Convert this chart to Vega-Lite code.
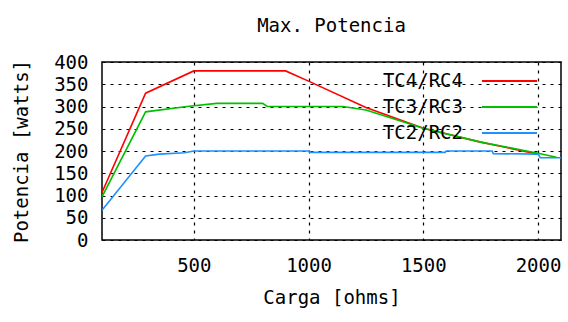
{
  "$schema": "https://vega.github.io/schema/vega-lite/v6.json",
  "width": 459,
  "height": 178,
  "autosize": "none",
  "padding": {"left": 102, "top": 62, "right": 7, "bottom": 82},
  "background": "white",
  "config": {
    "font": "DejaVu Sans Mono",
    "view": {"stroke": "#000", "strokeWidth": 1.5},
    "axis": {
      "labelFont": "DejaVu Sans Mono",
      "titleFont": "DejaVu Sans Mono",
      "labelFontSize": 19,
      "titleFontSize": 19,
      "labelColor": "#000",
      "titleColor": "#000",
      "titleFontWeight": "normal",
      "domain": false,
      "ticks": false,
      "tickSize": 0,
      "grid": true,
      "gridColor": "#000",
      "gridDash": [3, 5],
      "gridWidth": 1.2,
      "gridOpacity": 1
    }
  },
  "title": {
    "text": "Max. Potencia",
    "font": "DejaVu Sans Mono",
    "fontSize": 19,
    "fontWeight": "normal",
    "color": "#000",
    "baseline": "alphabetic",
    "offset": 2,
    "anchor": "middle"
  },
  "data": {
    "values": [
      {"carga": 100, "potencia": 107, "serie": "TC4/RC4"},
      {"carga": 290, "potencia": 330, "serie": "TC4/RC4"},
      {"carga": 500, "potencia": 380, "serie": "TC4/RC4"},
      {"carga": 900, "potencia": 380, "serie": "TC4/RC4"},
      {"carga": 1000, "potencia": 357, "serie": "TC4/RC4"},
      {"carga": 1250, "potencia": 298, "serie": "TC4/RC4"},
      {"carga": 1500, "potencia": 251, "serie": "TC4/RC4"},
      {"carga": 1750, "potencia": 220, "serie": "TC4/RC4"},
      {"carga": 2000, "potencia": 193, "serie": "TC4/RC4"},
      {"carga": 100, "potencia": 97, "serie": "TC3/RC3"},
      {"carga": 290, "potencia": 288, "serie": "TC3/RC3"},
      {"carga": 470, "potencia": 300, "serie": "TC3/RC3"},
      {"carga": 600, "potencia": 307, "serie": "TC3/RC3"},
      {"carga": 800, "potencia": 307, "serie": "TC3/RC3"},
      {"carga": 820, "potencia": 300, "serie": "TC3/RC3"},
      {"carga": 1150, "potencia": 300, "serie": "TC3/RC3"},
      {"carga": 1250, "potencia": 292, "serie": "TC3/RC3"},
      {"carga": 1500, "potencia": 251, "serie": "TC3/RC3"},
      {"carga": 1750, "potencia": 220, "serie": "TC3/RC3"},
      {"carga": 2000, "potencia": 195, "serie": "TC3/RC3"},
      {"carga": 2080, "potencia": 186, "serie": "TC3/RC3"},
      {"carga": 100, "potencia": 67, "serie": "TC2/RC2"},
      {"carga": 290, "potencia": 189, "serie": "TC2/RC2"},
      {"carga": 350, "potencia": 193, "serie": "TC2/RC2"},
      {"carga": 460, "potencia": 196, "serie": "TC2/RC2"},
      {"carga": 500, "potencia": 200, "serie": "TC2/RC2"},
      {"carga": 1000, "potencia": 200, "serie": "TC2/RC2"},
      {"carga": 1005, "potencia": 197, "serie": "TC2/RC2"},
      {"carga": 1595, "potencia": 197, "serie": "TC2/RC2"},
      {"carga": 1600, "potencia": 200, "serie": "TC2/RC2"},
      {"carga": 1800, "potencia": 200, "serie": "TC2/RC2"},
      {"carga": 1805, "potencia": 194, "serie": "TC2/RC2"},
      {"carga": 2000, "potencia": 193, "serie": "TC2/RC2"},
      {"carga": 2010, "potencia": 185, "serie": "TC2/RC2"},
      {"carga": 2100, "potencia": 185, "serie": "TC2/RC2"}
    ]
  },
  "mark": {"type": "line", "strokeWidth": 1.6, "clip": true},
  "encoding": {
    "x": {
      "field": "carga",
      "type": "quantitative",
      "title": "Carga [ohms]",
      "scale": {"domain": [100, 2100], "nice": false, "zero": false},
      "axis": {
        "values": [500, 1000, 1500, 2000],
        "format": "d",
        "labelPadding": 16,
        "labelDx": 3,
        "titlePadding": 13
      }
    },
    "y": {
      "field": "potencia",
      "type": "quantitative",
      "title": "Potencia [watts]",
      "scale": {"domain": [0, 400], "nice": false},
      "axis": {
        "values": [0, 50, 100, 150, 200, 250, 300, 350, 400],
        "labelPadding": 14,
        "titlePadding": 22
      }
    },
    "color": {
      "field": "serie",
      "type": "nominal",
      "scale": {
        "domain": ["TC4/RC4", "TC3/RC3", "TC2/RC2"],
        "range": ["#ff0000", "#00c000", "#1e90ff"]
      },
      "legend": {
        "title": null,
        "orient": "none",
        "legendX": 380,
        "legendY": 9.5,
        "padding": 0,
        "symbolType": "M-5,0H5",
        "symbolSize": 121,
        "symbolStrokeWidth": 2,
        "symbolOffset": 18,
        "rowPadding": 6,
        "labelAlign": "right",
        "labelOffset": -56,
        "labelFont": "DejaVu Sans Mono",
        "labelFontSize": 19,
        "labelColor": "#000",
        "labelLimit": 0
      }
    }
  }
}
